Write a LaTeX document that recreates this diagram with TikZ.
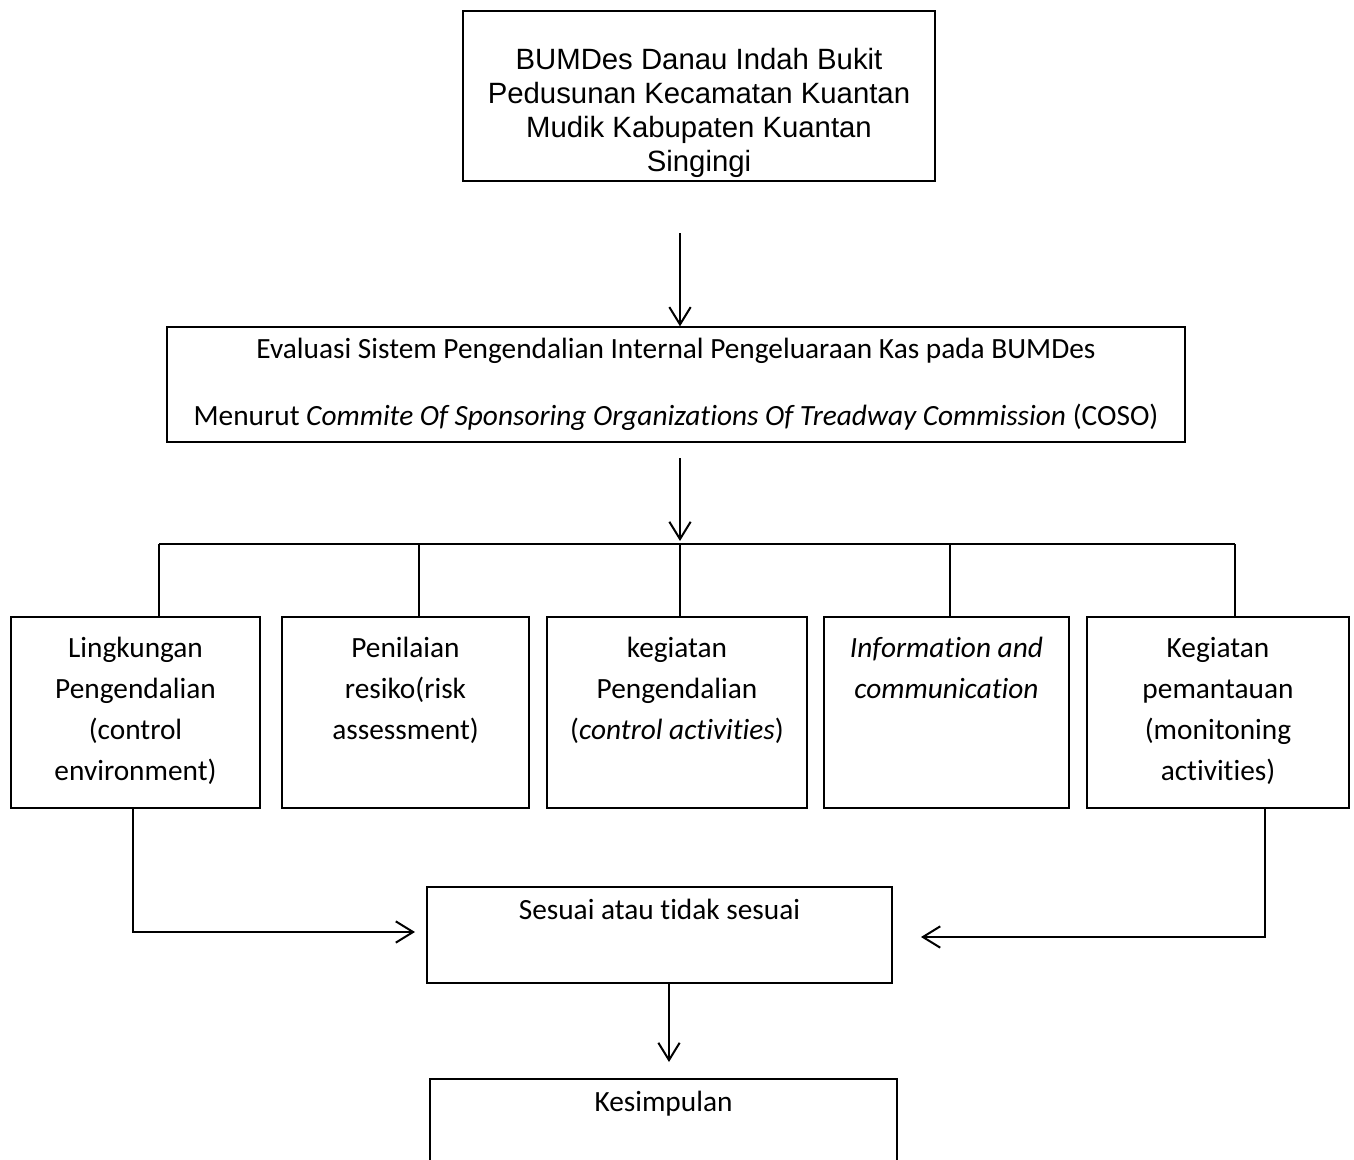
\documentclass[tikz,border=0pt]{standalone}
\usepackage{fontspec}
\setmainfont{Carlito}[Ligatures=NoCommon]
\newfontfamily\arialf{Liberation Sans}
\usetikzlibrary{arrows.meta}
\begin{document}
\begin{tikzpicture}[x=0.75pt,y=-0.75pt,
  box/.style={draw,line width=1pt,rectangle,inner sep=0pt},
  txt/.style={inner sep=0pt,align=center,font=\fontsize{22pt}{30.75pt}\selectfont},
  conn/.style={line width=1.5pt},
  bar/.style={line width=1.1pt},
  arr/.style={line width=1.5pt,-{Straight Barb[length=13pt,width=16pt,line width=1.5pt]}}]
\useasboundingbox (0,0) rectangle (1354,1160);
% boxes
\node[box,minimum width=354pt,minimum height=127.5pt] (top) at (699,96) {};
\node[box,minimum width=763.5pt,minimum height=86.25pt] (eval) at (676,384.5) {};
\node[box,minimum width=186.75pt,minimum height=143.25pt] (b1) at (135.5,712.5) {};
\node[box,minimum width=185.25pt,minimum height=143.25pt] (b2) at (405.5,712.5) {};
\node[box,minimum width=195pt,minimum height=143.25pt] (b3) at (677,712.5) {};
\node[box,minimum width=183.75pt,minimum height=143.25pt] (b4) at (946.5,712.5) {};
\node[box,minimum width=196.5pt,minimum height=143.25pt] (b5) at (1218,712.5) {};
\node[box,minimum width=348.75pt,minimum height=72pt] (ses) at (659.5,935) {};
\node[box,minimum width=350.25pt,minimum height=75pt] (kes) at (663.5,1129) {};
% texts
\node[txt,font=\arialf\fontsize{22pt}{25.5pt}\selectfont,anchor=north] (ttop) at (699,48) {BUMDes Danau Indah Bukit\\Pedusunan Kecamatan Kuantan\\Mudik Kabupaten Kuantan\\Singingi};
\node[txt,font=\fontsize{22pt}{50pt}\selectfont,anchor=north] (teval) at (676,338) {Evaluasi Sistem Pengendalian Internal Pengeluaraan Kas pada BUMDes\\Menurut \textit{Commite Of Sponsoring Organizations Of Treadway Commission} (COSO)};
\node[txt,anchor=north] (tb1) at (135.5,637) {Lingkungan\\Pengendalian\\(control\\environment)};
\node[txt,anchor=north] (tb2) at (405.5,637) {Penilaian\\resiko(risk\\assessment)};
\node[txt,anchor=north] (tb3) at (677,637) {kegiatan\\Pengendalian\\(\textit{control activities})};
\node[txt,anchor=north] (tb4) at (946.5,637) {\textit{Information and}\\\textit{communication}};
\node[txt,anchor=north] (tb5) at (1218,637) {Kegiatan\\pemantauan\\(monitoning\\activities)};
\node[txt,anchor=north] (tses) at (659.5,899) {Sesuai atau tidak sesuai};
\node[txt,anchor=north] (tkes) at (663.5,1091) {Kesimpulan};
% connectors
\coordinate (a1) at (680,233);
\draw[arr] (a1) -- (a1 |- eval.north);
\coordinate (a2) at (680,458);
\coordinate (a2e) at (680,541);
\draw[arr] (a2) -- (a2e);
\coordinate (barL) at (159,544);
\coordinate (barR) at (1235,544);
\draw[bar] (barL) -- (barR);
\coordinate (d2) at (419,544);
\coordinate (d3) at (680,544);
\coordinate (d4) at (950,544);
\draw[bar] (barL) -- (barL |- b1.north);
\draw[bar] (d2) -- (d2 |- b2.north);
\draw[bar] (d3) -- (d3 |- b3.north);
\draw[bar] (d4) -- (d4 |- b4.north);
\draw[bar] (barR) -- (barR |- b5.north);
\coordinate (lc) at (133,932);
\coordinate (lce) at (415,932);
\draw[arr] (lc |- b1.south) -- (lc) -- (lce);
\coordinate (rc) at (1265,937);
\coordinate (rce) at (921,937);
\draw[arr] (rc |- b5.south) -- (rc) -- (rce);
\coordinate (a3) at (669,1062);
\draw[arr] (a3 |- ses.south) -- (a3);
\end{tikzpicture}
\end{document}
